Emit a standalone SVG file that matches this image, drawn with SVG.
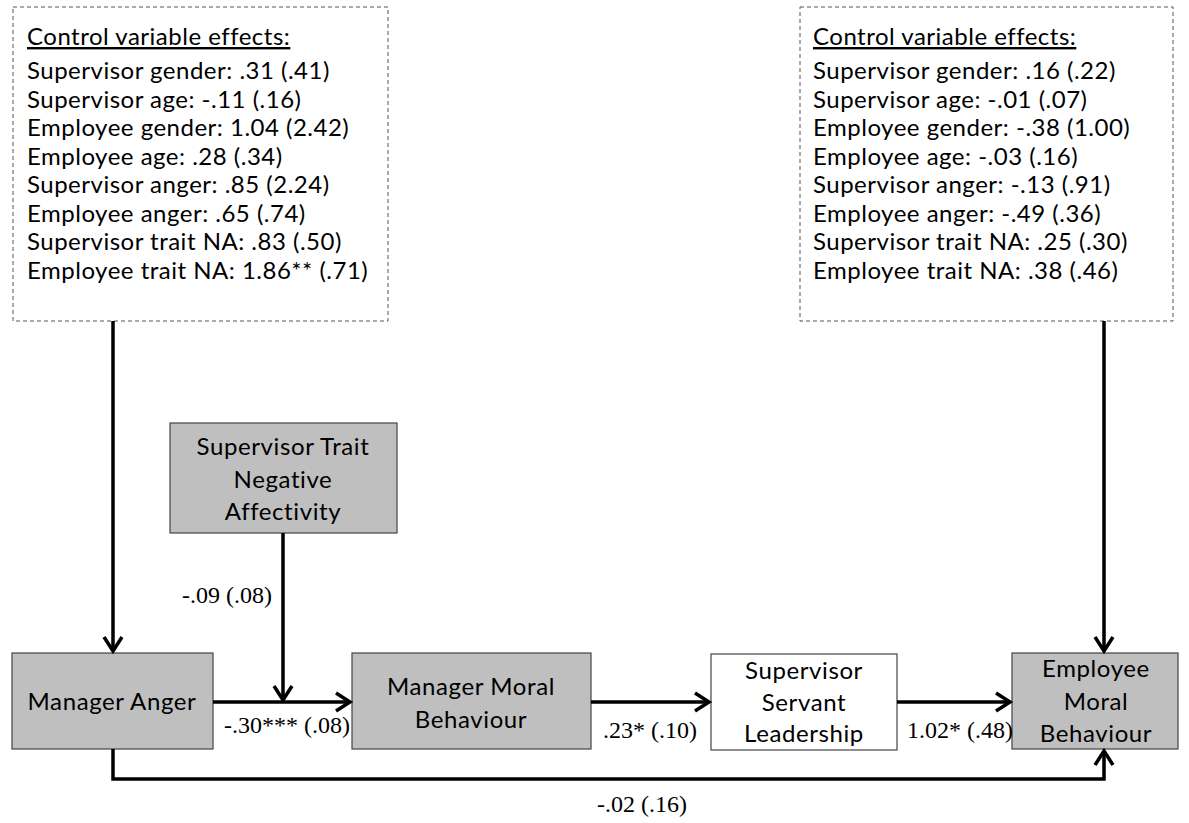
<svg xmlns="http://www.w3.org/2000/svg" width="1189" height="823" viewBox="0 0 1189 823">
<style>
.ctl{font-family:Lato,"Open Sans",sans-serif;font-size:24px;letter-spacing:0.5px;fill:#000}
.node{fill:#bfbfbf;stroke:#444;stroke-width:1.2}
.white{fill:#fff;stroke:#444;stroke-width:1.2}
.nt{font-family:Lato,"Open Sans",sans-serif;font-size:24px;letter-spacing:0.6px;fill:#000;text-anchor:middle}
.lab{font-family:"Liberation Serif","Times New Roman",serif;font-size:24px;fill:#000}
.dash{fill:#fff;stroke:#555;stroke-width:1;stroke-dasharray:4 3}
.conn{fill:none;stroke:#000;stroke-width:3.5}
</style>
<defs>
<marker id="arr" markerUnits="userSpaceOnUse" markerWidth="24" markerHeight="24" refX="17" refY="12" orient="auto" viewBox="0 0 24 24">
<path d="M3,3 L17,12 L3,21" fill="none" stroke="#000" stroke-width="3.5"/>
</marker>
</defs>
<rect width="1189" height="823" fill="#fff"/>
<g id="controls-left">
<rect class="dash" x="13" y="7" width="375" height="314"/>
<text class="ctl" x="27" y="45" text-decoration="underline">Control variable effects:</text>
<text class="ctl" x="27" y="79">Supervisor gender: .31 (.41)</text>
<text class="ctl" x="27" y="107.5">Supervisor age: -.11 (.16)</text>
<text class="ctl" x="27" y="136">Employee gender: 1.04 (2.42)</text>
<text class="ctl" x="27" y="164.5">Employee age: .28 (.34)</text>
<text class="ctl" x="27" y="193">Supervisor anger: .85 (2.24)</text>
<text class="ctl" x="27" y="221.5">Employee anger: .65 (.74)</text>
<text class="ctl" x="27" y="250">Supervisor trait NA: .83 (.50)</text>
<text class="ctl" x="27" y="278.5">Employee trait NA: 1.86** (.71)</text>
</g>
<g id="controls-right">
<rect class="dash" x="800" y="7" width="373" height="314"/>
<text class="ctl" x="813" y="45" text-decoration="underline">Control variable effects:</text>
<text class="ctl" x="813" y="79">Supervisor gender: .16 (.22)</text>
<text class="ctl" x="813" y="107.5">Supervisor age: -.01 (.07)</text>
<text class="ctl" x="813" y="136">Employee gender: -.38 (1.00)</text>
<text class="ctl" x="813" y="164.5">Employee age: -.03 (.16)</text>
<text class="ctl" x="813" y="193">Supervisor anger: -.13 (.91)</text>
<text class="ctl" x="813" y="221.5">Employee anger: -.49 (.36)</text>
<text class="ctl" x="813" y="250">Supervisor trait NA: .25 (.30)</text>
<text class="ctl" x="813" y="278.5">Employee trait NA: .38 (.46)</text>
</g>
<g id="stna">
<rect class="node" x="170" y="423" width="227" height="110"/>
<text class="nt" x="283" y="455">Supervisor Trait</text>
<text class="nt" x="283" y="488">Negative</text>
<text class="nt" x="283" y="520">Affectivity</text>
</g>
<g id="manager-anger">
<rect class="node" x="12" y="653" width="201" height="96"/>
<text class="nt" x="112" y="710">Manager Anger</text>
</g>
<g id="manager-moral">
<rect class="node" x="352" y="653" width="239" height="96"/>
<text class="nt" x="471" y="695">Manager Moral</text>
<text class="nt" x="471" y="728">Behaviour</text>
</g>
<g id="servant">
<rect class="white" x="711" y="654" width="186" height="96"/>
<text class="nt" x="804" y="679">Supervisor</text>
<text class="nt" x="804" y="711">Servant</text>
<text class="nt" x="804" y="742">Leadership</text>
</g>
<g id="employee-moral">
<rect class="node" x="1012" y="653" width="166" height="96"/>
<text class="nt" x="1096" y="677">Employee</text>
<text class="nt" x="1096" y="710">Moral</text>
<text class="nt" x="1096" y="742">Behaviour</text>
</g>
<g id="connectors">
<path class="conn" d="M113,321 V651" marker-end="url(#arr)"/>
<path class="conn" d="M1104,321 V651" marker-end="url(#arr)"/>
<path class="conn" d="M283,533 V700" marker-end="url(#arr)"/>
<path class="conn" d="M213,702 H350" marker-end="url(#arr)"/>
<path class="conn" d="M591,702 H709" marker-end="url(#arr)"/>
<path class="conn" d="M897,702 H1010" marker-end="url(#arr)"/>
<path class="conn" d="M113,749 V779 H1104 V751" marker-end="url(#arr)"/>
</g>
<g id="labels">
<text class="lab" x="182" y="603">-.09 (.08)</text>
<text class="lab" x="224" y="733">-.30*** (.08)</text>
<text class="lab" x="603" y="738">.23* (.10)</text>
<text class="lab" x="907" y="738">1.02* (.48)</text>
<text class="lab" x="597" y="812">-.02 (.16)</text>
</g>
</svg>
